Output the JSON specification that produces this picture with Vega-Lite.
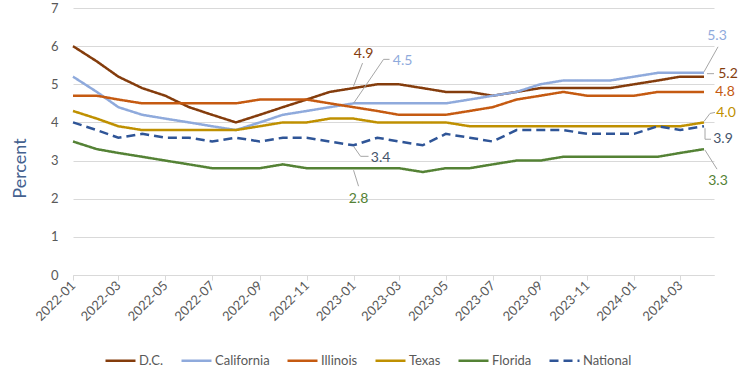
{
  "$schema": "https://vega.github.io/schema/vega-lite/v6.json",
  "width": 641,
  "height": 267,
  "autosize": {"type": "none"},
  "padding": {"left": 73, "top": 8, "right": 36, "bottom": 100},
  "background": "white",
  "config": {
    "view": {"stroke": null},
    "font": "Lato",
    "text": {"font": "Lato"}
  },
  "data": {
    "format": {"parse": {"m": "utc:'%Y-%m'"}},
    "values": [
      {"s":"D.C.","m":"2022-01","v":6.0},{"s":"D.C.","m":"2022-02","v":5.6},{"s":"D.C.","m":"2022-03","v":5.2},{"s":"D.C.","m":"2022-04","v":4.9},{"s":"D.C.","m":"2022-05","v":4.7},{"s":"D.C.","m":"2022-06","v":4.4},{"s":"D.C.","m":"2022-07","v":4.2},{"s":"D.C.","m":"2022-08","v":4.0},{"s":"D.C.","m":"2022-09","v":4.2},{"s":"D.C.","m":"2022-10","v":4.4},{"s":"D.C.","m":"2022-11","v":4.6},{"s":"D.C.","m":"2022-12","v":4.8},{"s":"D.C.","m":"2023-01","v":4.9},{"s":"D.C.","m":"2023-02","v":5.0},{"s":"D.C.","m":"2023-03","v":5.0},{"s":"D.C.","m":"2023-04","v":4.9},{"s":"D.C.","m":"2023-05","v":4.8},{"s":"D.C.","m":"2023-06","v":4.8},{"s":"D.C.","m":"2023-07","v":4.7},{"s":"D.C.","m":"2023-08","v":4.8},{"s":"D.C.","m":"2023-09","v":4.9},{"s":"D.C.","m":"2023-10","v":4.9},{"s":"D.C.","m":"2023-11","v":4.9},{"s":"D.C.","m":"2023-12","v":4.9},{"s":"D.C.","m":"2024-01","v":5.0},{"s":"D.C.","m":"2024-02","v":5.1},{"s":"D.C.","m":"2024-03","v":5.2},{"s":"D.C.","m":"2024-04","v":5.2},
      {"s":"California","m":"2022-01","v":5.2},{"s":"California","m":"2022-02","v":4.8},{"s":"California","m":"2022-03","v":4.4},{"s":"California","m":"2022-04","v":4.2},{"s":"California","m":"2022-05","v":4.1},{"s":"California","m":"2022-06","v":4.0},{"s":"California","m":"2022-07","v":3.9},{"s":"California","m":"2022-08","v":3.8},{"s":"California","m":"2022-09","v":4.0},{"s":"California","m":"2022-10","v":4.2},{"s":"California","m":"2022-11","v":4.3},{"s":"California","m":"2022-12","v":4.4},{"s":"California","m":"2023-01","v":4.5},{"s":"California","m":"2023-02","v":4.5},{"s":"California","m":"2023-03","v":4.5},{"s":"California","m":"2023-04","v":4.5},{"s":"California","m":"2023-05","v":4.5},{"s":"California","m":"2023-06","v":4.6},{"s":"California","m":"2023-07","v":4.7},{"s":"California","m":"2023-08","v":4.8},{"s":"California","m":"2023-09","v":5.0},{"s":"California","m":"2023-10","v":5.1},{"s":"California","m":"2023-11","v":5.1},{"s":"California","m":"2023-12","v":5.1},{"s":"California","m":"2024-01","v":5.2},{"s":"California","m":"2024-02","v":5.3},{"s":"California","m":"2024-03","v":5.3},{"s":"California","m":"2024-04","v":5.3},
      {"s":"Illinois","m":"2022-01","v":4.7},{"s":"Illinois","m":"2022-02","v":4.7},{"s":"Illinois","m":"2022-03","v":4.6},{"s":"Illinois","m":"2022-04","v":4.5},{"s":"Illinois","m":"2022-05","v":4.5},{"s":"Illinois","m":"2022-06","v":4.5},{"s":"Illinois","m":"2022-07","v":4.5},{"s":"Illinois","m":"2022-08","v":4.5},{"s":"Illinois","m":"2022-09","v":4.6},{"s":"Illinois","m":"2022-10","v":4.6},{"s":"Illinois","m":"2022-11","v":4.6},{"s":"Illinois","m":"2022-12","v":4.5},{"s":"Illinois","m":"2023-01","v":4.4},{"s":"Illinois","m":"2023-02","v":4.3},{"s":"Illinois","m":"2023-03","v":4.2},{"s":"Illinois","m":"2023-04","v":4.2},{"s":"Illinois","m":"2023-05","v":4.2},{"s":"Illinois","m":"2023-06","v":4.3},{"s":"Illinois","m":"2023-07","v":4.4},{"s":"Illinois","m":"2023-08","v":4.6},{"s":"Illinois","m":"2023-09","v":4.7},{"s":"Illinois","m":"2023-10","v":4.8},{"s":"Illinois","m":"2023-11","v":4.7},{"s":"Illinois","m":"2023-12","v":4.7},{"s":"Illinois","m":"2024-01","v":4.7},{"s":"Illinois","m":"2024-02","v":4.8},{"s":"Illinois","m":"2024-03","v":4.8},{"s":"Illinois","m":"2024-04","v":4.8},
      {"s":"Texas","m":"2022-01","v":4.3},{"s":"Texas","m":"2022-02","v":4.1},{"s":"Texas","m":"2022-03","v":3.9},{"s":"Texas","m":"2022-04","v":3.8},{"s":"Texas","m":"2022-05","v":3.8},{"s":"Texas","m":"2022-06","v":3.8},{"s":"Texas","m":"2022-07","v":3.8},{"s":"Texas","m":"2022-08","v":3.8},{"s":"Texas","m":"2022-09","v":3.9},{"s":"Texas","m":"2022-10","v":4.0},{"s":"Texas","m":"2022-11","v":4.0},{"s":"Texas","m":"2022-12","v":4.1},{"s":"Texas","m":"2023-01","v":4.1},{"s":"Texas","m":"2023-02","v":4.0},{"s":"Texas","m":"2023-03","v":4.0},{"s":"Texas","m":"2023-04","v":4.0},{"s":"Texas","m":"2023-05","v":4.0},{"s":"Texas","m":"2023-06","v":3.9},{"s":"Texas","m":"2023-07","v":3.9},{"s":"Texas","m":"2023-08","v":3.9},{"s":"Texas","m":"2023-09","v":3.9},{"s":"Texas","m":"2023-10","v":3.9},{"s":"Texas","m":"2023-11","v":3.9},{"s":"Texas","m":"2023-12","v":3.9},{"s":"Texas","m":"2024-01","v":3.9},{"s":"Texas","m":"2024-02","v":3.9},{"s":"Texas","m":"2024-03","v":3.9},{"s":"Texas","m":"2024-04","v":4.0},
      {"s":"Florida","m":"2022-01","v":3.5},{"s":"Florida","m":"2022-02","v":3.3},{"s":"Florida","m":"2022-03","v":3.2},{"s":"Florida","m":"2022-04","v":3.1},{"s":"Florida","m":"2022-05","v":3.0},{"s":"Florida","m":"2022-06","v":2.9},{"s":"Florida","m":"2022-07","v":2.8},{"s":"Florida","m":"2022-08","v":2.8},{"s":"Florida","m":"2022-09","v":2.8},{"s":"Florida","m":"2022-10","v":2.9},{"s":"Florida","m":"2022-11","v":2.8},{"s":"Florida","m":"2022-12","v":2.8},{"s":"Florida","m":"2023-01","v":2.8},{"s":"Florida","m":"2023-02","v":2.8},{"s":"Florida","m":"2023-03","v":2.8},{"s":"Florida","m":"2023-04","v":2.7},{"s":"Florida","m":"2023-05","v":2.8},{"s":"Florida","m":"2023-06","v":2.8},{"s":"Florida","m":"2023-07","v":2.9},{"s":"Florida","m":"2023-08","v":3.0},{"s":"Florida","m":"2023-09","v":3.0},{"s":"Florida","m":"2023-10","v":3.1},{"s":"Florida","m":"2023-11","v":3.1},{"s":"Florida","m":"2023-12","v":3.1},{"s":"Florida","m":"2024-01","v":3.1},{"s":"Florida","m":"2024-02","v":3.1},{"s":"Florida","m":"2024-03","v":3.2},{"s":"Florida","m":"2024-04","v":3.3},
      {"s":"National","m":"2022-01","v":4.0},{"s":"National","m":"2022-02","v":3.8},{"s":"National","m":"2022-03","v":3.6},{"s":"National","m":"2022-04","v":3.7},{"s":"National","m":"2022-05","v":3.6},{"s":"National","m":"2022-06","v":3.6},{"s":"National","m":"2022-07","v":3.5},{"s":"National","m":"2022-08","v":3.6},{"s":"National","m":"2022-09","v":3.5},{"s":"National","m":"2022-10","v":3.6},{"s":"National","m":"2022-11","v":3.6},{"s":"National","m":"2022-12","v":3.5},{"s":"National","m":"2023-01","v":3.4},{"s":"National","m":"2023-02","v":3.6},{"s":"National","m":"2023-03","v":3.5},{"s":"National","m":"2023-04","v":3.4},{"s":"National","m":"2023-05","v":3.7},{"s":"National","m":"2023-06","v":3.6},{"s":"National","m":"2023-07","v":3.5},{"s":"National","m":"2023-08","v":3.8},{"s":"National","m":"2023-09","v":3.8},{"s":"National","m":"2023-10","v":3.8},{"s":"National","m":"2023-11","v":3.7},{"s":"National","m":"2023-12","v":3.7},{"s":"National","m":"2024-01","v":3.7},{"s":"National","m":"2024-02","v":3.9},{"s":"National","m":"2024-03","v":3.8},{"s":"National","m":"2024-04","v":3.9}
    ]
  },
  "encoding": {
    "x": {
      "field": "m", "type": "temporal",
      "scale": {"type": "utc", "domain": [{"year": 2022, "month": 1, "date": 1, "utc": true}, {"year": 2024, "month": 4, "date": 14, "utc": true}]},
      "axis": {"format": "%Y-%m", "tickCount": {"interval": "month", "step": 2}, "labelAngle": -45, "labelAlign": "right", "labelBaseline": "middle", "grid": false, "domainColor": "#D9D9D9", "tickColor": "#D9D9D9", "tickSize": 5, "labelColor": "#595959", "labelFontSize": 13, "labelPadding": 3, "title": null, "labelFlush": false, "labelOverlap": false}
    },
    "y": {
      "field": "v", "type": "quantitative",
      "scale": {"domain": [0, 7]},
      "axis": {"values": [0, 1, 2, 3, 4, 5, 6, 7], "grid": true, "gridColor": "#D9D9D9", "domain": false, "ticks": false, "labelPadding": 15, "labelColor": "#595959", "labelFontSize": 13, "title": "Percent", "titleColor": "#44618F", "titleFontSize": 18, "titleFontWeight": "normal", "titleX": -53, "titleY": 160, "titleAngle": -90, "titleBaseline": "middle", "titleAlign": "center"}
    }
  },
  "layer": [
    {
      "mark": {"type": "line", "strokeWidth": 2.5, "strokeCap": "butt"},
      "encoding": {
        "color": {"field": "s", "type": "nominal", "sort": null,
          "scale": {"domain": ["D.C.", "California", "Illinois", "Texas", "Florida", "National"], "range": ["#843C0C", "#8FAADC", "#C55A11", "#BF9000", "#548235", "#2F5597"]},
          "legend": {"orient": "none", "direction": "horizontal", "legendX": 31, "legendY": 336, "title": null, "symbolType": "stroke", "symbolSize": 900, "symbolStrokeWidth": 2.5, "labelFontSize": 13, "labelColor": "#595959", "columnPadding": 12, "labelOffset": 2}},
        "strokeDash": {"field": "s", "type": "nominal", "sort": null,
          "scale": {"domain": ["D.C.", "California", "Illinois", "Texas", "Florida", "National"], "range": [[1, 0], [1, 0], [1, 0], [1, 0], [1, 0], [9, 5]]},
          "legend": {"orient": "none", "direction": "horizontal", "legendX": 31, "legendY": 336, "title": null, "symbolType": "stroke", "symbolSize": 900, "symbolStrokeWidth": 2.5, "labelFontSize": 13, "labelColor": "#595959", "columnPadding": 12, "labelOffset": 2}}
      }
    },
    {"transform": [{"filter": "datum.s==='D.C.' && utcyear(datum.m)===2023 && utcmonth(datum.m)===0"}], "mark": {"type": "rule", "color": "#A6A6A6", "strokeWidth": 1, "xOffset": 0, "yOffset": -2, "x2Offset": 9, "y2Offset": -25}, "encoding": {"x2": {"field": "m"}, "y2": {"field": "v"}}},
    {"transform": [{"filter": "datum.s==='California' && utcyear(datum.m)===2023 && utcmonth(datum.m)===0"}], "mark": {"type": "rule", "color": "#A6A6A6", "strokeWidth": 1, "xOffset": 0, "yOffset": 0, "x2Offset": 30, "y2Offset": -44}, "encoding": {"x2": {"field": "m"}, "y2": {"field": "v"}}},
    {"transform": [{"filter": "datum.s==='California' && utcyear(datum.m)===2023 && utcmonth(datum.m)===0"}], "mark": {"type": "rule", "color": "#A6A6A6", "strokeWidth": 1, "xOffset": 30, "yOffset": -44, "x2Offset": 36, "y2Offset": -44}, "encoding": {"x2": {"field": "m"}, "y2": {"field": "v"}}},
    {"transform": [{"filter": "datum.s==='National' && utcyear(datum.m)===2023 && utcmonth(datum.m)===0"}], "mark": {"type": "rule", "color": "#A6A6A6", "strokeWidth": 1, "xOffset": 0, "yOffset": 1, "x2Offset": 7, "y2Offset": 11}, "encoding": {"x2": {"field": "m"}, "y2": {"field": "v"}}},
    {"transform": [{"filter": "datum.s==='National' && utcyear(datum.m)===2023 && utcmonth(datum.m)===0"}], "mark": {"type": "rule", "color": "#A6A6A6", "strokeWidth": 1, "xOffset": 7, "yOffset": 11, "x2Offset": 15, "y2Offset": 11}, "encoding": {"x2": {"field": "m"}, "y2": {"field": "v"}}},
    {"transform": [{"filter": "datum.s==='Florida' && utcyear(datum.m)===2023 && utcmonth(datum.m)===0"}], "mark": {"type": "rule", "color": "#A6A6A6", "strokeWidth": 1, "xOffset": 0, "yOffset": 2, "x2Offset": 5, "y2Offset": 18}, "encoding": {"x2": {"field": "m"}, "y2": {"field": "v"}}},
    {"transform": [{"filter": "datum.s==='California' && utcyear(datum.m)===2024 && utcmonth(datum.m)===3"}], "mark": {"type": "rule", "color": "#A6A6A6", "strokeWidth": 1, "xOffset": 0, "yOffset": -1, "x2Offset": 14, "y2Offset": -26}, "encoding": {"x2": {"field": "m"}, "y2": {"field": "v"}}},
    {"transform": [{"filter": "datum.s==='D.C.' && utcyear(datum.m)===2024 && utcmonth(datum.m)===3"}], "mark": {"type": "rule", "color": "#A6A6A6", "strokeWidth": 1, "xOffset": 3, "yOffset": -3, "x2Offset": 10, "y2Offset": -3}, "encoding": {"x2": {"field": "m"}, "y2": {"field": "v"}}},
    {"transform": [{"filter": "datum.s==='Texas' && utcyear(datum.m)===2024 && utcmonth(datum.m)===3"}], "mark": {"type": "rule", "color": "#A6A6A6", "strokeWidth": 1, "xOffset": 0, "yOffset": -1, "x2Offset": 6, "y2Offset": -9}, "encoding": {"x2": {"field": "m"}, "y2": {"field": "v"}}},
    {"transform": [{"filter": "datum.s==='Texas' && utcyear(datum.m)===2024 && utcmonth(datum.m)===3"}], "mark": {"type": "rule", "color": "#A6A6A6", "strokeWidth": 1, "xOffset": 6, "yOffset": -9, "x2Offset": 11, "y2Offset": -10}, "encoding": {"x2": {"field": "m"}, "y2": {"field": "v"}}},
    {"transform": [{"filter": "datum.s==='National' && utcyear(datum.m)===2024 && utcmonth(datum.m)===3"}], "mark": {"type": "rule", "color": "#A6A6A6", "strokeWidth": 1, "xOffset": 1, "yOffset": 2, "x2Offset": 1, "y2Offset": 13}, "encoding": {"x2": {"field": "m"}, "y2": {"field": "v"}}},
    {"transform": [{"filter": "datum.s==='National' && utcyear(datum.m)===2024 && utcmonth(datum.m)===3"}], "mark": {"type": "rule", "color": "#A6A6A6", "strokeWidth": 1, "xOffset": 1, "yOffset": 13, "x2Offset": 7, "y2Offset": 13}, "encoding": {"x2": {"field": "m"}, "y2": {"field": "v"}}},
    {"transform": [{"filter": "datum.s==='Florida' && utcyear(datum.m)===2024 && utcmonth(datum.m)===3"}], "mark": {"type": "rule", "color": "#A6A6A6", "strokeWidth": 1, "xOffset": 1, "yOffset": 1, "x2Offset": 13, "y2Offset": 20}, "encoding": {"x2": {"field": "m"}, "y2": {"field": "v"}}},
    {"transform": [{"filter": "datum.s==='D.C.' && utcyear(datum.m)===2023 && utcmonth(datum.m)===0"}], "mark": {"type": "text", "fontSize": 14, "align": "center", "baseline": "middle", "dx": 10, "dy": -34, "color": "#843C0C"}, "encoding": {"text": {"field": "v", "format": ".1f"}}},
    {"transform": [{"filter": "datum.s==='California' && utcyear(datum.m)===2023 && utcmonth(datum.m)===0"}], "mark": {"type": "text", "fontSize": 14, "align": "center", "baseline": "middle", "dx": 49, "dy": -42, "color": "#8FAADC"}, "encoding": {"text": {"field": "v", "format": ".1f"}}},
    {"transform": [{"filter": "datum.s==='National' && utcyear(datum.m)===2023 && utcmonth(datum.m)===0"}], "mark": {"type": "text", "fontSize": 14, "align": "center", "baseline": "middle", "dx": 27, "dy": 13, "color": "#44546A"}, "encoding": {"text": {"field": "v", "format": ".1f"}}},
    {"transform": [{"filter": "datum.s==='Florida' && utcyear(datum.m)===2023 && utcmonth(datum.m)===0"}], "mark": {"type": "text", "fontSize": 14, "align": "center", "baseline": "middle", "dx": 5, "dy": 31, "color": "#548235"}, "encoding": {"text": {"field": "v", "format": ".1f"}}},
    {"transform": [{"filter": "datum.s==='California' && utcyear(datum.m)===2024 && utcmonth(datum.m)===3"}], "mark": {"type": "text", "fontSize": 14, "align": "center", "baseline": "middle", "dx": 13, "dy": -37, "color": "#8FAADC"}, "encoding": {"text": {"field": "v", "format": ".1f"}}},
    {"transform": [{"filter": "datum.s==='D.C.' && utcyear(datum.m)===2024 && utcmonth(datum.m)===3"}], "mark": {"type": "text", "fontSize": 14, "align": "center", "baseline": "middle", "dx": 24, "dy": -3, "color": "#843C0C"}, "encoding": {"text": {"field": "v", "format": ".1f"}}},
    {"transform": [{"filter": "datum.s==='Illinois' && utcyear(datum.m)===2024 && utcmonth(datum.m)===3"}], "mark": {"type": "text", "fontSize": 14, "align": "center", "baseline": "middle", "dx": 21, "dy": 0, "color": "#C55A11"}, "encoding": {"text": {"field": "v", "format": ".1f"}}},
    {"transform": [{"filter": "datum.s==='Texas' && utcyear(datum.m)===2024 && utcmonth(datum.m)===3"}], "mark": {"type": "text", "fontSize": 14, "align": "center", "baseline": "middle", "dx": 22, "dy": -9, "color": "#BF9000"}, "encoding": {"text": {"field": "v", "format": ".1f"}}},
    {"transform": [{"filter": "datum.s==='National' && utcyear(datum.m)===2024 && utcmonth(datum.m)===3"}], "mark": {"type": "text", "fontSize": 14, "align": "center", "baseline": "middle", "dx": 19, "dy": 13, "color": "#44546A"}, "encoding": {"text": {"field": "v", "format": ".1f"}}},
    {"transform": [{"filter": "datum.s==='Florida' && utcyear(datum.m)===2024 && utcmonth(datum.m)===3"}], "mark": {"type": "text", "fontSize": 14, "align": "center", "baseline": "middle", "dx": 14, "dy": 32, "color": "#548235"}, "encoding": {"text": {"field": "v", "format": ".1f"}}}
  ]
}
